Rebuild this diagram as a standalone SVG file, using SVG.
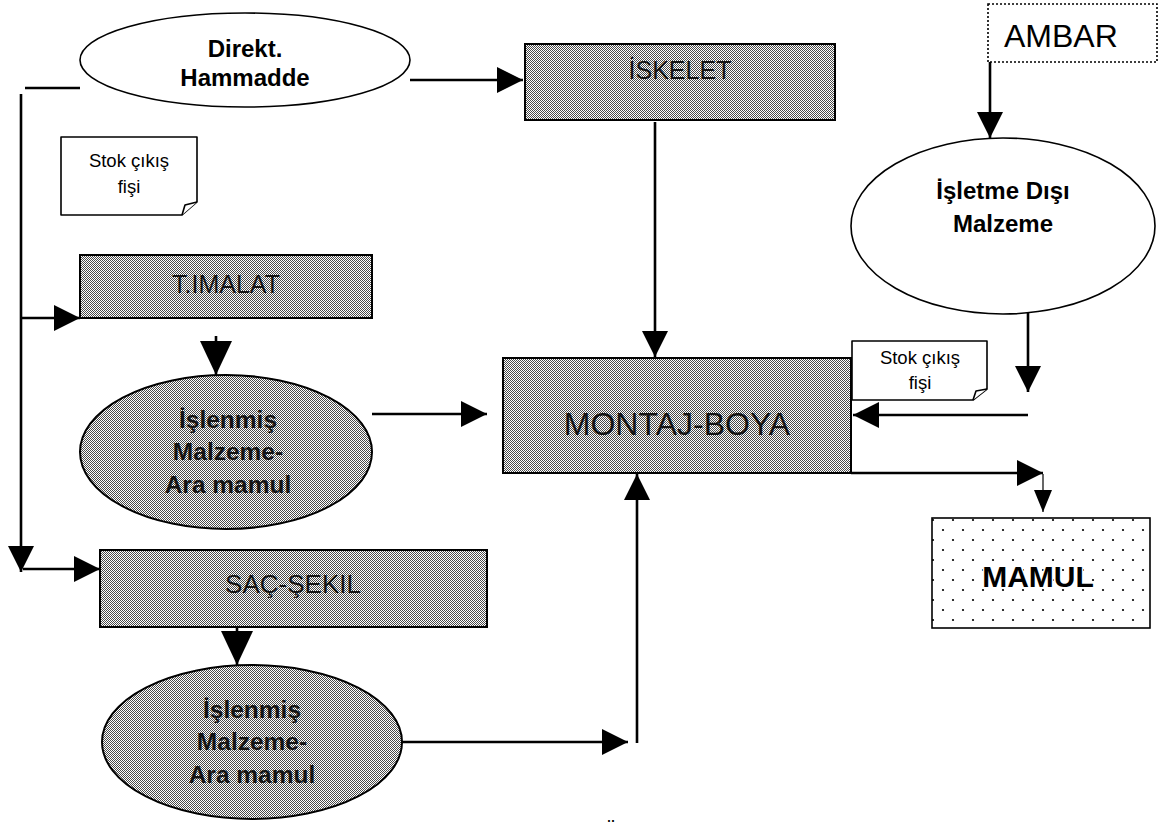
<svg xmlns="http://www.w3.org/2000/svg" width="1164" height="822" viewBox="0 0 1164 822">
  <defs>
    <!-- halftone fill used by the process boxes and the intermediate-product ellipses -->
    <pattern id="dither" width="2" height="2" patternUnits="userSpaceOnUse">
      <rect width="2" height="2" fill="#ffffff"/>
      <rect width="1" height="1" fill="#4a4a4a"/>
      <rect x="1" y="1" width="1" height="1" fill="#4a4a4a"/>
    </pattern>
    <!-- sparse staggered dots for the finished-product box -->
    <pattern id="dots" x="938" y="525" width="20" height="20" patternUnits="userSpaceOnUse">
      <rect width="20" height="20" fill="#ffffff"/>
      <circle cx="5" cy="5" r="1.1" fill="#000"/>
      <circle cx="15" cy="15" r="1.1" fill="#000"/>
    </pattern>
    <marker id="ah" viewBox="0 0 26 26" refX="26" refY="13" markerWidth="26" markerHeight="26" markerUnits="userSpaceOnUse" orient="auto">
      <path d="M0,0 L26,13 L0,26 Z" fill="#000"/>
    </marker>
    <marker id="ahL" viewBox="0 0 34 32" refX="34" refY="16" markerWidth="34" markerHeight="32" markerUnits="userSpaceOnUse" orient="auto">
      <path d="M0,0 L34,16 L0,32 Z" fill="#000"/>
    </marker>
    <marker id="ahS" viewBox="0 0 22 18" refX="22" refY="9" markerWidth="22" markerHeight="18" markerUnits="userSpaceOnUse" orient="auto">
      <path d="M0,0 L22,9 L0,18 Z" fill="#000"/>
    </marker>
  </defs>
  <style>
    text { font-family: "Liberation Sans", Arial, sans-serif; text-anchor: middle; }
    .b { font-weight: bold; }
    .shade { fill: url(#dither); stroke: #000; stroke-width: 2; }
    .plain { fill: #ffffff; stroke: #000; stroke-width: 1.6; }
    .doc { fill: #ffffff; stroke: #000; stroke-width: 1.6; stroke-linejoin: round; }
    .ink { fill: #141414; }
    .conn { fill: none; stroke: #000; stroke-width: 2.6; }
    .thin { fill: none; stroke: #000; stroke-width: 1.2; }
  </style>

  <rect width="1164" height="822" fill="#ffffff"/>

  <!-- connectors -->
  <g id="connectors">
    <path class="conn" d="M410,80 H523" marker-end="url(#ah)"/>
    <path class="conn" d="M25,88 H80"/>
    <path class="conn" d="M21,94 V572" marker-end="url(#ah)"/>
    <path class="conn" d="M22,318 H80" marker-end="url(#ah)"/>
    <path class="conn" d="M216,336 V375" marker-end="url(#ahL)"/>
    <path class="conn" d="M372,414 H487" marker-end="url(#ah)"/>
    <path class="conn" d="M655,122 V357" marker-end="url(#ah)"/>
    <path class="conn" d="M23,569 H100" marker-end="url(#ah)"/>
    <path class="conn" d="M237,627 V665" marker-end="url(#ahL)"/>
    <path class="conn" d="M402,742 H628" marker-end="url(#ah)"/>
    <path class="conn" d="M637,743 V474" marker-end="url(#ah)"/>
    <path class="conn" d="M990,62 V138" marker-end="url(#ah)"/>
    <path class="conn" d="M1028,292 V392" marker-end="url(#ah)"/>
    <path class="conn" d="M1028,415 H853" marker-end="url(#ah)"/>
    <path class="conn" d="M851,473 H1043" marker-end="url(#ah)"/>
    <path class="thin" d="M1043,474 V512" marker-end="url(#ahS)"/>
  </g>

  <!-- raw material -->
  <g id="direkt-hammadde">
    <ellipse class="plain" cx="245" cy="60" rx="165" ry="47"/>
    <text class="b" x="245" y="57" font-size="24">Direkt.</text>
    <text class="b" x="245" y="86" font-size="24">Hammadde</text>
  </g>

  <g id="stok-fisi-1">
    <path class="doc" d="M61,137 H197 V202 L182,215 H61 Z"/>
    <path class="doc" d="M182,215 L185,205 L197,202"/>
    <text x="129" y="167" font-size="18.5">Stok çıkış</text>
    <text x="129" y="193" font-size="18.5">fişi</text>
  </g>

  <g id="t-imalat">
    <rect class="shade" x="80" y="255" width="292" height="63"/>
    <text class="ink" x="226" y="293" font-size="25">T.IMALAT</text>
  </g>

  <g id="islenmis-1">
    <ellipse class="shade" cx="226" cy="452" rx="146" ry="77" stroke-width="1.6"/>
    <text class="b ink" x="228" y="428" font-size="24.5">İşlenmiş</text>
    <text class="b ink" x="228" y="460" font-size="24.5">Malzeme-</text>
    <text class="b ink" x="228" y="493" font-size="24.5">Ara mamul</text>
  </g>

  <g id="saç-sekil">
    <rect class="shade" x="100" y="550" width="387" height="77"/>
    <text class="ink" x="293" y="593" font-size="26">SAÇ-ŞEKIL</text>
  </g>

  <g id="islenmis-2">
    <ellipse class="shade" cx="252" cy="742" rx="150" ry="77" stroke-width="1.6"/>
    <text class="b ink" x="252" y="718" font-size="24.5">İşlenmiş</text>
    <text class="b ink" x="252" y="750" font-size="24.5">Malzeme-</text>
    <text class="b ink" x="252" y="783" font-size="24.5">Ara mamul</text>
  </g>

  <g id="iskelet">
    <rect class="shade" x="525" y="44" width="310" height="76"/>
    <text class="ink" x="680" y="79" font-size="25">İSKELET</text>
  </g>

  <g id="montaj-boya">
    <rect class="shade" x="503" y="358" width="348" height="115"/>
    <text class="ink" x="677" y="435" font-size="32">MONTAJ-BOYA</text>
  </g>

  <g id="ambar">
    <rect x="988" y="4" width="169" height="58" fill="#ffffff" stroke="#000" stroke-width="1.6" stroke-dasharray="2 2"/>
    <text x="1004" y="47" font-size="32" style="text-anchor:start">AMBAR</text>
  </g>

  <g id="isletme-disi-malzeme">
    <ellipse class="plain" cx="1003" cy="226" rx="152" ry="88"/>
    <text class="b" x="1003" y="199" font-size="24">İşletme Dışı</text>
    <text class="b" x="1003" y="232" font-size="24">Malzeme</text>
  </g>

  <g id="stok-fisi-2">
    <path class="doc" d="M852,341 H987 V389 L973,400 H852 Z"/>
    <path class="doc" d="M973,400 L976,391 L987,389"/>
    <text x="920" y="364" font-size="18.5">Stok çıkış</text>
    <text x="920" y="389" font-size="18.5">fişi</text>
  </g>

  <g id="mamul">
    <rect x="932" y="518" width="218" height="110" fill="url(#dots)" stroke="#000" stroke-width="1.6"/>
    <text class="b" x="1038" y="587" font-size="30" stroke="#ffffff" stroke-width="3" paint-order="stroke">MAMUL</text>
  </g>

  <!-- caption running past the lower edge; only its accent dots fall inside -->
  <text class="b" x="611" y="836" font-size="18">Ü</text>
</svg>
